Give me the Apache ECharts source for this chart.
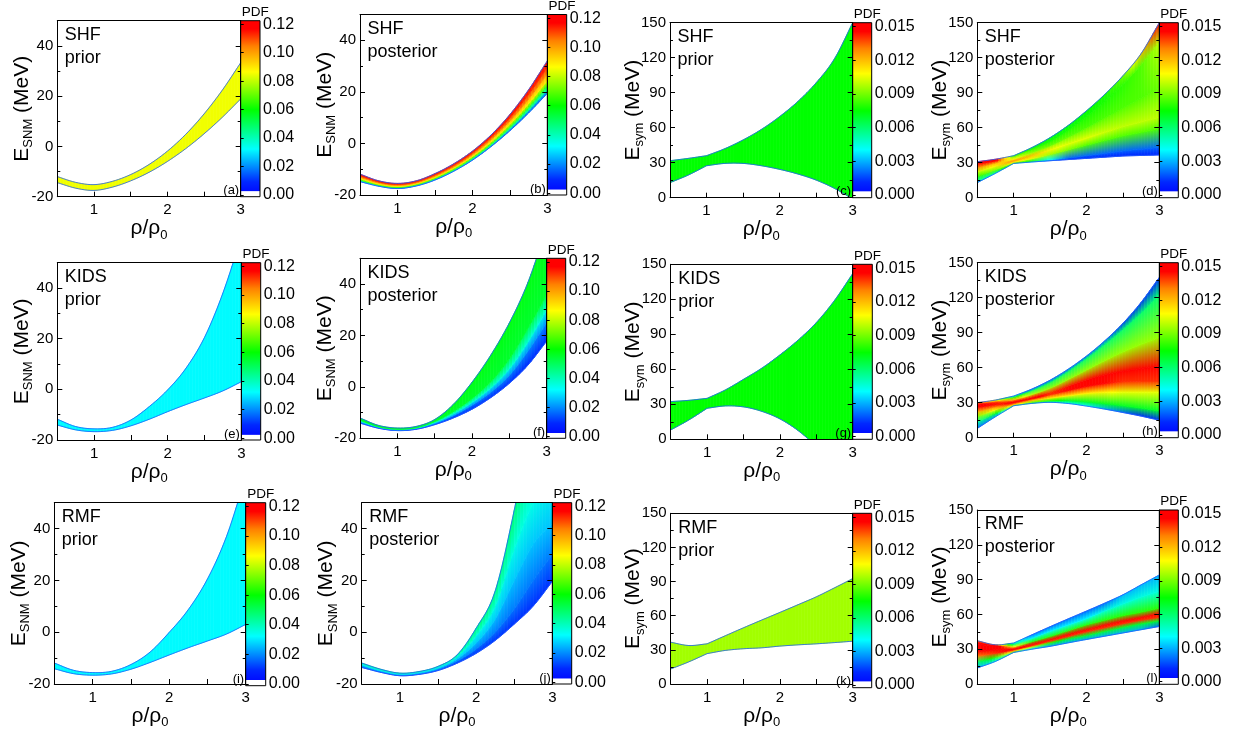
<!DOCTYPE html>
<html><head><meta charset="utf-8">
<script src="https://cdn.jsdelivr.net/npm/echarts@6/dist/echarts.min.js"></script>
<style>html,body{margin:0;padding:0;background:#fff}#c{width:1246px;height:730px}</style>
</head><body><div id="c"></div>
<script>
// ---------------- data ----------------
const rho = [0.5,0.75,1,1.25,1.5,1.75,2,2.25,2.5,2.75,3];
const rhoTickLabels = [1,2,3];
const rhoTickMarks = [1,1.5,2,2.5];
const snmTickLabels = [-20,0,20,40];
const symTickLabels = [0,30,60,90,120,150];
const pdfTicksSnm = [0,0.02,0.04,0.06,0.08,0.10,0.12];
const pdfTicksSym = [0,0.003,0.006,0.009,0.012,0.015];

// (a) SHF prior E_SNM
const shfPriorSnmLower = [-14.4,-16.6,-17.5,-16.2,-13.7,-10.3,-6.0,-0.9,5.0,11.6,18.9];
const shfPriorSnmUpper = [-12.0,-14.3,-15.2,-13.9,-11.2,-7.2,-1.9,4.8,12.9,22.4,33.3];
const shfPriorSnmPdf = 0.085;
// (b) SHF posterior E_SNM
const shfPostSnmC0 = [-14.8,-16.6,-17.5,-16.5,-14.2,-10.8,-6.5,-1.2,4.9,11.8,19.4];
const shfPostSnmC1 = [-14.5,-16.4,-17.3,-16.3,-13.9,-10.5,-6.1,-0.7,5.7,12.9,20.9];
const shfPostSnmC2 = [-14.1,-16.1,-17.0,-16.0,-13.6,-10.1,-5.6,-0.1,6.5,14.1,22.6];
const shfPostSnmC3 = [-13.6,-15.8,-16.7,-15.7,-13.2,-9.6,-5.1,0.6,7.4,15.4,24.4];
const shfPostSnmC4 = [-13.1,-15.3,-16.3,-15.3,-12.7,-9.1,-4.4,1.5,8.7,17.2,27.0];
const shfPostSnmC5 = [-12.5,-14.9,-15.9,-14.9,-12.2,-8.5,-3.7,2.4,9.9,19.0,29.5];
const shfPostSnmC6 = [-11.9,-14.5,-15.5,-14.5,-11.7,-7.9,-3.0,3.3,11.2,20.8,32.0];
const shfPostSnmPdf = [0.015,0.04,0.065,0.088,0.1,0.112,0.12];
// (c) SHF prior E_sym
const shfPriorSymLower = [12.9,19.4,27.4,29.4,29.4,27.4,24.3,20.3,15.1,8,-1];
const shfPriorSymUpper = [31.7,33.7,36,42,49.5,58.5,69.5,82.5,98.5,119,150];
const shfPriorSymPdf = 0.0075;
// (d) SHF posterior E_sym
const shfPostSymC0 = [12.9,20.9,29.4,30.6,31.7,32.7,33.7,34.7,35.7,36.2,36.6];
const shfPostSymC1 = [14,21.8,29.8,31.2,32.5,34,36,38,40,41.5,43];
const shfPostSymC2 = [18,24,30.5,33.5,37,41,45,49,53,56,59];
const shfPostSymC3 = [22,27,31.5,36,41,46,51,56,61,65,69];
const shfPostSymC4 = [26,29.5,33,38.5,44.5,52,60,68.5,77,85.5,94];
const shfPostSymC5 = [29,31.5,35,41.5,48.5,58,69.5,82.5,97,114,134];
const shfPostSymC6 = [30.9,33,36,43,51.5,62,74.5,88.5,104.5,123.5,150];
const shfPostSymP0 = [0.003,0.004,0.006,0.004,0.002,0.001,0.001,0.001,0.001,0.001,0.001];
const shfPostSymP1 = [0.005,0.006,0.009,0.007,0.004,0.002,0.002,0.002,0.002,0.002,0.002];
const shfPostSymP2 = [0.008,0.009,0.011,0.0105,0.0095,0.009,0.0085,0.0085,0.0085,0.0085,0.0085];
const shfPostSymP3 = [0.010,0.011,0.013,0.012,0.011,0.0105,0.0105,0.0102,0.010,0.010,0.010];
const shfPostSymP4 = [0.013,0.012,0.011,0.0095,0.009,0.0088,0.0085,0.0085,0.0085,0.0085,0.0088];
const shfPostSymP5 = [0.015,0.015,0.009,0.008,0.0078,0.0078,0.0078,0.0078,0.008,0.0085,0.010];
const shfPostSymP6 = [0.015,0.015,0.008,0.0072,0.0072,0.0072,0.0074,0.0078,0.009,0.012,0.015];
// (e) KIDS prior E_SNM
const kidsPriorSnmLower = [-14.1,-16,-16.7,-16.2,-14.4,-11.8,-8.8,-6.0,-3.4,-0.6,3.0];
const kidsPriorSnmUpper = [-11.8,-14.7,-15.6,-15,-12.1,-6.8,-0.2,8.4,20.5,38,60];
const kidsPriorSnmPdf = 0.032;
// (f) KIDS posterior E_SNM
const kidsPostSnmC0 = [-14.1,-16.1,-17.0,-16.5,-14.7,-12.1,-8.7,-4.2,1.4,8.5,17.8];
const kidsPostSnmC1 = [-13.7,-15.9,-16.9,-16.3,-14.3,-11.2,-7.1,-2.1,4.5,14,25];
const kidsPostSnmC2 = [-13.3,-15.7,-16.7,-16.1,-13.9,-10.5,-6,-0.5,7,17.5,30];
const kidsPostSnmC3 = [-12.9,-15.5,-16.5,-15.9,-13.5,-9.6,-4.5,2,11,23,36];
const kidsPostSnmC4 = [-12.1,-15,-16.0,-15.4,-12.7,-6.8,1.8,12.3,24.9,40.7,62];
const kidsPostSnmPdf = [0.008,0.02,0.035,0.055,0.058];
// (g) KIDS prior E_sym
const kidsPriorSymLower = [8,16.6,26.6,28.6,27.8,24,17.5,7.5,-6,-22,-40];
const kidsPriorSymUpper = [32.3,33.4,35.1,42.3,51.4,60.9,72.3,85,100,119,142];
const kidsPriorSymPdf = 0.0075;
// (h) KIDS posterior E_sym
const kidsPostSymC0 = [8,18,27.4,29.4,30.3,29.3,27.1,24.5,21.6,18.5,15.0];
const kidsPostSymC1 = [13,21,28.5,30.5,31.8,31.8,30.8,29.2,27.4,25.4,23];
const kidsPostSymC2 = [18,24,29.5,32,34,36,38,39,39,39,39];
const kidsPostSymC3 = [22,26.5,30.2,33.3,36.8,40.5,44,46.5,48,48.5,48.5];
const kidsPostSymC4 = [26,28.5,31,34.5,38.8,44,49.5,53.8,57,59.3,61];
const kidsPostSymC5 = [28.5,30.5,32.5,37,42.5,50,58,66,73.5,80,86];
const kidsPostSymC6 = [29.5,31.5,34.5,40.5,47.5,57,68,80,93,107,123];
const kidsPostSymC7 = [30,32.3,35.7,41.7,49.3,58.8,70,83,98,116,137.4];
const kidsPostSymP0 = [0.002,0.003,0.006,0.006,0.005,0.004,0.004,0.003,0.002,0.001,0.001];
const kidsPostSymP1 = [0.005,0.007,0.012,0.009,0.008,0.007,0.007,0.007,0.007,0.007,0.007];
const kidsPostSymP2 = [0.009,0.011,0.014,0.012,0.011,0.011,0.011,0.011,0.0105,0.0105,0.0105];
const kidsPostSymP3 = [0.012,0.013,0.015,0.015,0.014,0.0145,0.0145,0.0145,0.014,0.014,0.014];
const kidsPostSymP4 = [0.015,0.015,0.015,0.015,0.014,0.0145,0.0145,0.015,0.015,0.015,0.015];
const kidsPostSymP5 = [0.015,0.014,0.012,0.010,0.0095,0.0095,0.0095,0.0095,0.0095,0.0095,0.0095];
const kidsPostSymP6 = [0.014,0.012,0.008,0.006,0.006,0.006,0.006,0.006,0.006,0.006,0.006];
const kidsPostSymP7 = [0.014,0.010,0.004,0.002,0.002,0.002,0.002,0.002,0.001,0.001,0.001];
// (i) RMF prior E_SNM
const rmfPriorSnmLower = [-14.1,-16,-16.6,-16.1,-14.3,-11.7,-8.8,-6.0,-3.4,-0.7,3.0];
const rmfPriorSnmUpper = [-11.9,-14.7,-15.6,-15.1,-12.5,-7.7,-0.1,8.7,20.5,37,60];
const rmfPriorSnmPdf = 0.032;
// (j) RMF posterior E_SNM
const rmfPostSnmC0 = [-13.6,-15.5,-16.8,-16.3,-14.8,-12,-8.2,-3.2,3.1,10.1,19.6];
const rmfPostSnmC1 = [-13.3,-15.3,-16.6,-16.1,-14.4,-11.2,-6.5,0,9,20,30];
const rmfPostSnmC2 = [-12.8,-15.0,-16.4,-15.8,-14.0,-10.4,-4.2,5,20,34,42];
const rmfPostSnmC3 = [-12.3,-14.6,-16.0,-15.4,-13.5,-9.5,-1.5,10,32,50,60];
const rmfPostSnmC4 = [-11.9,-14.3,-15.8,-15.2,-13.2,-8.8,1.5,15.8,47,85,125];
const rmfPostSnmPdf = [0.01,0.018,0.026,0.035,0.05];
// (k) RMF prior E_sym
const rmfPriorSymLower = [13.2,19.5,26.7,29.5,31,31.8,33.3,34.4,35.3,36.4,37.6];
const rmfPriorSymUpper = [36.7,33.8,35.3,42.4,49.4,56.2,62.9,69.7,76.6,84.5,92.6];
const rmfPriorSymPdf = 0.0096;
// (l) RMF posterior E_sym
const rmfPostSymC0 = [13.8,19.5,27.2,30,32.5,35.5,38.4,41.2,44,46.8,49.6];
const rmfPostSymC1 = [19,23,28.5,32,35.5,39,42,45.5,49,52,54.5];
const rmfPostSymC2 = [24,26.5,29.5,33,37,41,45,48.5,52,55,57.5];
const rmfPostSymC3 = [28,29.5,30.5,34.5,38.5,43,47,51,54.5,57.5,61];
const rmfPostSymC4 = [34,33,32,36.5,41,46,51,55,59,62,65.5];
const rmfPostSymC5 = [36,33.5,34,39.5,45.5,51,56.5,63,69,75,80];
const rmfPostSymC6 = [37.3,33.8,35.3,42.4,49.4,56.2,62.9,69.7,76.9,85.5,94];
const rmfPostSymP0 = [0.003,0.004,0.006,0.004,0.003,0.003,0.003,0.003,0.003,0.003,0.002];
const rmfPostSymP1 = [0.006,0.008,0.012,0.010,0.008,0.007,0.007,0.007,0.007,0.007,0.007];
const rmfPostSymP2 = [0.013,0.014,0.015,0.014,0.014,0.014,0.014,0.014,0.014,0.014,0.014];
const rmfPostSymP3 = [0.016,0.016,0.015,0.015,0.015,0.015,0.015,0.015,0.015,0.015,0.015];
const rmfPostSymP4 = [0.016,0.016,0.011,0.008,0.008,0.008,0.008,0.008,0.008,0.008,0.008];
const rmfPostSymP5 = [0.015,0.015,0.006,0.004,0.004,0.004,0.004,0.0045,0.0045,0.0045,0.0045];
const rmfPostSymP6 = [0.013,0.013,0.005,0.002,0.002,0.002,0.002,0.002,0.003,0.003,0.003];

// ---------------- panels ----------------
const panels = [
  {tag:'(a)', model:'SHF', kind:'prior', qty:'snm', curves:[shfPriorSnmLower,shfPriorSnmUpper], pdf:[shfPriorSnmPdf,shfPriorSnmPdf]},
  {tag:'(b)', model:'SHF', kind:'posterior', qty:'snm', curves:[shfPostSnmC0,shfPostSnmC1,shfPostSnmC2,shfPostSnmC3,shfPostSnmC4,shfPostSnmC5,shfPostSnmC6], pdf:shfPostSnmPdf},
  {tag:'(c)', model:'SHF', kind:'prior', qty:'sym', curves:[shfPriorSymLower,shfPriorSymUpper], pdf:[shfPriorSymPdf,shfPriorSymPdf]},
  {tag:'(d)', model:'SHF', kind:'posterior', qty:'sym', curves:[shfPostSymC0,shfPostSymC1,shfPostSymC2,shfPostSymC3,shfPostSymC4,shfPostSymC5,shfPostSymC6], pdf:[shfPostSymP0,shfPostSymP1,shfPostSymP2,shfPostSymP3,shfPostSymP4,shfPostSymP5,shfPostSymP6]},
  {tag:'(e)', model:'KIDS', kind:'prior', qty:'snm', curves:[kidsPriorSnmLower,kidsPriorSnmUpper], pdf:[kidsPriorSnmPdf,kidsPriorSnmPdf]},
  {tag:'(f)', model:'KIDS', kind:'posterior', qty:'snm', curves:[kidsPostSnmC0,kidsPostSnmC1,kidsPostSnmC2,kidsPostSnmC3,kidsPostSnmC4], pdf:kidsPostSnmPdf},
  {tag:'(g)', model:'KIDS', kind:'prior', qty:'sym', curves:[kidsPriorSymLower,kidsPriorSymUpper], pdf:[kidsPriorSymPdf,kidsPriorSymPdf]},
  {tag:'(h)', model:'KIDS', kind:'posterior', qty:'sym', curves:[kidsPostSymC0,kidsPostSymC1,kidsPostSymC2,kidsPostSymC3,kidsPostSymC4,kidsPostSymC5,kidsPostSymC6,kidsPostSymC7], pdf:[kidsPostSymP0,kidsPostSymP1,kidsPostSymP2,kidsPostSymP3,kidsPostSymP4,kidsPostSymP5,kidsPostSymP6,kidsPostSymP7]},
  {tag:'(i)', model:'RMF', kind:'prior', qty:'snm', curves:[rmfPriorSnmLower,rmfPriorSnmUpper], pdf:[rmfPriorSnmPdf,rmfPriorSnmPdf]},
  {tag:'(j)', model:'RMF', kind:'posterior', qty:'snm', curves:[rmfPostSnmC0,rmfPostSnmC1,rmfPostSnmC2,rmfPostSnmC3,rmfPostSnmC4], pdf:rmfPostSnmPdf},
  {tag:'(k)', model:'RMF', kind:'prior', qty:'sym', curves:[rmfPriorSymLower,rmfPriorSymUpper], pdf:[rmfPriorSymPdf,rmfPriorSymPdf]},
  {tag:'(l)', model:'RMF', kind:'posterior', qty:'sym', curves:[rmfPostSymC0,rmfPostSymC1,rmfPostSymC2,rmfPostSymC3,rmfPostSymC4,rmfPostSymC5,rmfPostSymC6], pdf:[rmfPostSymP0,rmfPostSymP1,rmfPostSymP2,rmfPostSymP3,rmfPostSymP4,rmfPostSymP5,rmfPostSymP6]}
];

// ---------------- layout (px): left, top, plotRight, bottom, colorbarRight ----------------
const layout = [
  [57.3,20.7,240.7,196.7,260],[360,14.5,547.3,195,566.7],[670,22.7,852.7,197.7,871.7],[977.3,22.7,1159.3,197.7,1178.3],
  [57.3,262.7,241.3,440,260.7],[360,258.3,546.7,438.3,565.7],[670.7,264.3,852.7,439.3,872.3],[977.3,262.7,1159.3,437.7,1178.3],
  [54.3,502.7,245.7,685.7,265.7],[361.7,502.7,552.3,684,571.7],[670.7,513.3,852.7,687.7,871.7],[977.3,510,1159.3,684.3,1178.3]
];

const FONT = "Arial, 'Liberation Sans', sans-serif";
const cmap = [[0,[0,0,255]],[0.08,[0,40,255]],[0.27,[0,255,255]],[0.5,[0,255,0]],[0.72,[255,255,0]],[0.87,[255,128,0]],[0.97,[255,0,0]],[1,[255,0,0]]];
function colorAt(t){
  t = Math.max(0, Math.min(1, t));
  for (let k=1;k<cmap.length;k++){
    if (t <= cmap[k][0]){
      const a = cmap[k-1], b = cmap[k];
      const f = (t - a[0]) / (b[0] - a[0] || 1);
      const c = a[1].map((v,q)=>Math.round(v + (b[1][q]-v)*f));
      return 'rgb('+c.join(',')+')';
    }
  }
  return 'rgb(255,0,0)';
}
function pv(arr, i){ return Array.isArray(arr) ? arr[i] : arr; }
function lerp(a,b,t){ return a + (b-a)*t; }
// smooth (Hermite / Catmull-Rom) drawing of a curve between data points i and i+1; brk = index of a corner
function crv(c, i, t, brk){
  const n = c.length;
  const p1 = c[i], p2 = c[i+1];
  const m1 = (i>0 && i!==brk) ? (p2-c[i-1])/2 : (p2-p1);
  const m2 = (i+2<n && i+1!==brk) ? (c[i+2]-p1)/2 : (p2-p1);
  const t2=t*t, t3=t2*t;
  return (2*t3-3*t2+1)*p1 + (t3-2*t2+t)*m1 + (-2*t3+3*t2)*p2 + (t3-t2)*m2;
}

const grid=[], xAxis=[], yAxis=[], series=[], graphic=[];
const richName = {
  m:{fontSize:21, fontFamily:FONT, color:'#000', lineHeight:26},
  s:{fontSize:13, fontFamily:FONT, color:'#000', lineHeight:11, verticalAlign:'bottom'}
};
const EDGE = 'rgb(30,90,255)';

panels.forEach((p,k)=>{
  const [L,T,R,B,CR] = layout[k];
  const snm = p.qty === 'snm';
  const brk = snm ? -1 : 2;   // E_sym bands have a corner at rho/rho0 = 1
  const vmax = snm ? 0.12 : 0.015;
  const cbMin = snm ? -0.0012 : -0.00024;
  const cbMax = snm ? 0.1225 : 0.01536;
  const gp = 2*k, gc = 2*k+1;
  grid.push({left:L, top:T, width:R-L, height:B-T});
  grid.push({left:R, top:T, width:CR-R, height:B-T});

  const lineBlack = {show:true, onZero:false, lineStyle:{color:'#000', width:1}};
  xAxis.push({gridIndex:gp, type:'value', min:0.5, max:3, position:'bottom', z:10,
    axisLine:lineBlack,
    axisTick:{show:true, inside:true, length:5, customValues:rhoTickMarks, lineStyle:{color:'#000'}},
    axisLabel:{customValues:rhoTickLabels, margin:6, fontSize:15, color:'#000', fontFamily:FONT},
    splitLine:{show:false},
    name:'{m|ρ/ρ}{s|0}', nameLocation:'middle', nameGap:19, nameMoveOverlap:false, nameTextStyle:{rich:richName}});
  xAxis.push({gridIndex:gp, type:'value', min:0.5, max:3, position:'top', z:10,
    axisLine:lineBlack, axisTick:{show:false}, axisLabel:{show:false}, splitLine:{show:false}});
  xAxis.push({gridIndex:gc, type:'value', min:0, max:1, show:false});

  const yCommon = {gridIndex:gp, type:'value', min: snm?-20:0, max: snm?50:150, interval: snm?20:30, z:10,
    axisLine:lineBlack,
    axisTick:{show:true, inside:true, length:5, lineStyle:{color:'#000'}},
    minorTick:{show:true, splitNumber:2, length:3, lineStyle:{color:'#000'}},
    splitLine:{show:false}, minorSplitLine:{show:false}};
  yAxis.push(Object.assign({}, yCommon, {position:'left',
    axisLabel:{customValues: snm?snmTickLabels:symTickLabels, margin:4, fontSize:15, color:'#000', fontFamily:FONT},
    name: snm ? '{m|E}{s|SNM}{m| (MeV)}' : '{m|E}{s|sym}{m| (MeV)}',
    nameLocation:'middle', nameRotate:90, nameGap: snm ? 22 : 24, nameMoveOverlap:false, nameTextStyle:{rich:richName}}));
  yAxis.push(Object.assign({}, yCommon, {position:'right', axisLabel:{show:false}}));
  const pt = snm ? pdfTicksSnm : pdfTicksSym;
  yAxis.push({gridIndex:gc, type:'value', min:cbMin, max:cbMax, position:'right', z:10,
    axisLine:{show:false},
    axisTick:{show:true, inside:false, length:3, customValues:pt, lineStyle:{color:'#000'}},
    axisLabel:{customValues:pt, margin:3, fontSize:16, color:'#000', fontFamily:FONT,
      formatter:(v)=>Number(v).toFixed(snm?2:3)},
    splitLine:{show:false}});

  // band
  const nL = p.curves.length-1, nS = rho.length-1, SUB = 6;
  const data = [];
  for (let j=0;j<nL;j++) for (let i=0;i<nS;i++) data.push([rho[i], rho[i+1], i, j]);
  series.push({type:'custom', xAxisIndex:3*k, yAxisIndex:3*k, clip:true, silent:true, z:2,
    data, encode:{x:[0,1]},
    renderItem(params, api){
      const i = api.value(2), j = api.value(3);
      const lo = p.curves[j], hi = p.curves[j+1];
      const children = [];
      const edgeLo = [], edgeHi = [];
      for (let s=0;s<SUB;s++){
        const t0 = s/SUB, t1 = (s+1)/SUB, tm = (s+0.5)/SUB;
        const x0 = lerp(rho[i],rho[i+1],t0), x1 = lerp(rho[i],rho[i+1],t1);
        const a = api.coord([x0, crv(lo,i,t0,brk)]), b = api.coord([x1, crv(lo,i,t1,brk)]);
        const c = api.coord([x1, crv(hi,i,t1,brk)]), d = api.coord([x0, crv(hi,i,t0,brk)]);
        if (s===0){ edgeLo.push(a); edgeHi.push(d); }
        edgeLo.push(b); edgeHi.push(c);
        const vLo = lerp(pv(p.pdf[j],i), pv(p.pdf[j],i+1), tm);
        const vHi = lerp(pv(p.pdf[j+1],i), pv(p.pdf[j+1],i+1), tm);
        const grad = new echarts.graphic.LinearGradient(0,0,0,1,[
          {offset:0, color:colorAt(vHi/vmax)}, {offset:1, color:colorAt(vLo/vmax)}]);
        children.push({type:'polygon', shape:{points:[a,b,c,d]}, style:{fill:grad, stroke:grad, lineWidth:0.7}});
      }
      if (j===0) children.push({type:'polyline', z2:50, shape:{points:edgeLo}, style:{fill:null, stroke:EDGE, lineWidth:0.8}});
      if (j===nL-1) children.push({type:'polyline', z2:50, shape:{points:edgeHi}, style:{fill:null, stroke:EDGE, lineWidth:0.8}});
      return {type:'group', children};
    }});
  // colorbar
  const range = cbMax - cbMin;
  const stops = [];
  const wv = 0.025*vmax;
  cmap.forEach(([t])=>{
    const v = t*vmax;
    if (v > wv) stops.push({offset: Math.max(0,(cbMax - v)/range), color: colorAt(t)});
  });
  stops.push({offset:0, color:colorAt(1)});
  const wOff = (cbMax - wv)/range;
  stops.push({offset:wOff, color:colorAt(0.025)});
  stops.push({offset:Math.min(1,wOff+0.002), color:'#fff'});
  stops.push({offset:1, color:'#fff'});
  stops.sort((a,b)=>a.offset-b.offset);
  const cbGrad = new echarts.graphic.LinearGradient(0,0,0,1,stops);
  series.push({type:'custom', xAxisIndex:3*k+2, yAxisIndex:3*k+2, silent:true, z:2,
    data:[[0,0]],
    renderItem(params, api){
      const a = api.coord([0, cbMax]), b = api.coord([1, cbMin]);
      return {type:'rect', shape:{x:a[0], y:a[1], width:b[0]-a[0], height:b[1]-a[1]},
        style:{fill:cbGrad, stroke:'#000', lineWidth:1}};
    }});

  // texts
  graphic.push({type:'text', x:L+7.5, y:T+3, z:100, silent:true,
    style:{text:p.model+'\n'+p.kind, fontSize:18, fontFamily:FONT, fill:'#000', lineHeight:23, align:'left', verticalAlign:'top'}});
  graphic.push({type:'text', x:R-1.5, y:B+0.5, z:100, silent:true,
    style:{text:p.tag, fontSize:13, fontFamily:FONT, fill:'#000', align:'right', verticalAlign:'bottom'}});
  graphic.push({type:'text', x:(R+CR)/2+5, y:T-1.5, z:100, silent:true,
    style:{text:'PDF', fontSize:13.5, fontFamily:FONT, fill:'#000', align:'center', verticalAlign:'bottom'}});
});

const chart = echarts.init(document.getElementById('c'), null, {renderer:'canvas'});
chart.setOption({animation:false, backgroundColor:'#fff', grid, xAxis, yAxis, series, graphic});
</script></body></html>
